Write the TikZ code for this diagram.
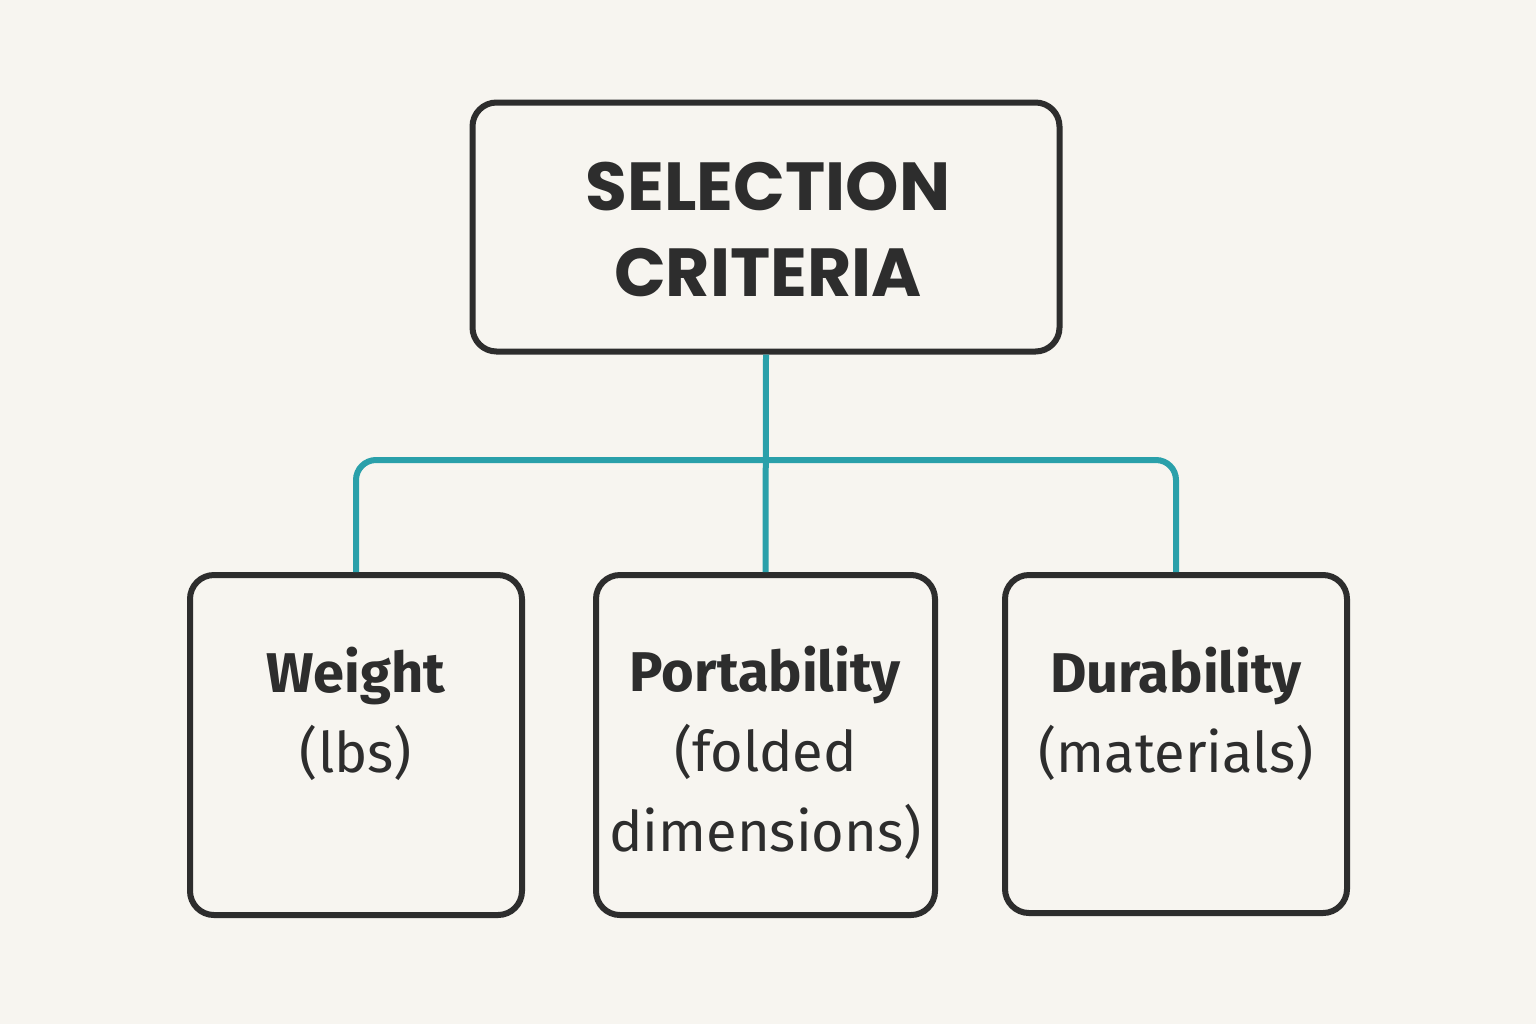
\documentclass[tikz,border=0pt]{standalone}
\usepackage{fontspec}
\setmainfont{Fira Sans}
\newfontfamily\titlefont{Poppins}
\definecolor{bg}{RGB}{247,245,240}
\definecolor{teal1}{RGB}{42,160,170}
\definecolor{ink}{RGB}{45,45,45}
\begin{document}
\begin{tikzpicture}[x=0.5pt,y=-0.5pt,
  box/.style={draw=ink,line width=3pt,rounded corners=12pt,inner sep=0pt},
  conn/.style={draw=teal1,line width=3pt,rounded corners=10pt},
  txt/.style={align=center,font=\fontsize{28}{40}\selectfont,text=ink}]
\fill[bg] (0,0) rectangle (1536,1024);
\useasboundingbox (0,0) rectangle (1536,1024);
\node[box,minimum width=293.5pt,minimum height=124.5pt] (top) at (766,227) {};
\node[txt,font=\fontsize{34}{43}\selectfont\titlefont\bfseries] at (768,229) {SELECTION\\CRITERIA};
\node[box,minimum width=166pt,minimum height=170pt] (w) at (356,745) {};
\node[box,minimum width=169.5pt,minimum height=170pt] (p) at (765.5,745) {};
\node[box,minimum width=171pt,minimum height=169pt] (d) at (1176,744) {};
\node[txt] at (356,714) {\textbf{Weight}\\(lbs)};
\node[txt] at (765.5,753) {\textbf{Portability}\\(folded\\dimensions)};
\node[txt] at (1176,714) {\textbf{Durability}\\(materials)};
\draw[conn] (top.south) -- (p.north);
\draw[conn] (w.north) -- (356,460) -- (1176,460) -- (d.north);
\end{tikzpicture}
\end{document}
